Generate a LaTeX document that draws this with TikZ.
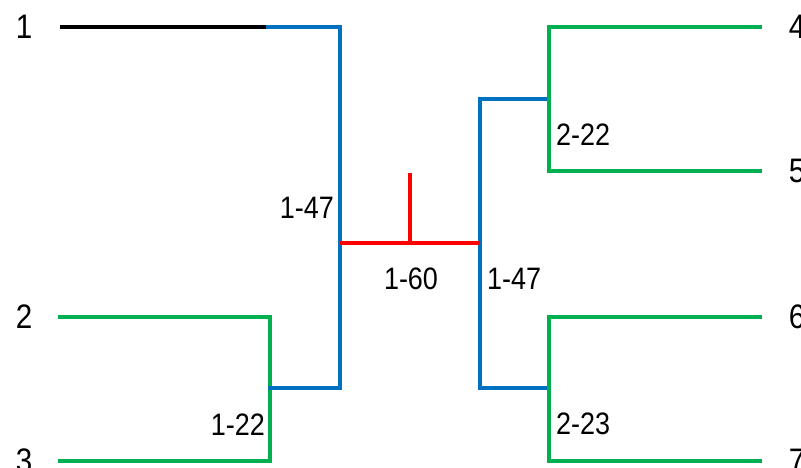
\documentclass[tikz,border=0pt]{standalone}
\usepackage{fontspec}
\usepackage{graphicx}
\setmainfont{Liberation Sans}
\definecolor{cblue}{HTML}{0070C0}
\definecolor{cgreen}{HTML}{00B050}
\definecolor{cred}{HTML}{FF0000}
\newcommand{\narrowtxt}[1]{\scalebox{0.87}[1]{#1}}
\begin{document}
\begin{tikzpicture}[x=1pt,y=-1pt,
  leaf/.style={font=\fontsize{34}{36}\selectfont, inner sep=0pt},
  lab/.style={font=\fontsize{31}{33}\selectfont, inner sep=0pt},
  ln/.style={line width=3.6pt, line cap=rect}]
\useasboundingbox (0,0) rectangle (801,468);
% leaf labels
\node[leaf] (n1) at (24,27) {\narrowtxt{1}};
\node[leaf] (n2) at (24,317) {\narrowtxt{2}};
\node[leaf] (n3) at (24,461) {\narrowtxt{3}};
\node[leaf] (n4) at (797,27) {\narrowtxt{4}};
\node[leaf] (n5) at (797,171) {\narrowtxt{5}};
\node[leaf] (n6) at (797,317) {\narrowtxt{6}};
\node[leaf] (n7) at (797,461) {\narrowtxt{7}};
% coordinates
\coordinate (a1) at (60,27);
\coordinate (a1b) at (268,27);
\coordinate (a1c) at (340,27);
\coordinate (a2) at (60,317);
\coordinate (a2c) at (270,317);
\coordinate (a3) at (60,461);
\coordinate (a3c) at (270,461);
\coordinate (j22) at (270,388);
\coordinate (lb) at (340,388);
\coordinate (lm) at (340,243);
\coordinate (rm) at (480,243);
\coordinate (rt) at (480,99);
\coordinate (rb) at (480,388);
\coordinate (gt) at (549,99);
\coordinate (gb) at (549,388);
\coordinate (g4) at (549,27);
\coordinate (g5) at (549,171);
\coordinate (g6) at (549,317);
\coordinate (g7) at (549,461);
\coordinate (e4) at (760,27);
\coordinate (e5) at (760,171);
\coordinate (e6) at (760,317);
\coordinate (e7) at (760,461);
\coordinate (rootb) at (410,243);
\coordinate (roott) at (410,173);
% lines
\draw[ln, black, line cap=butt] (a1) -- (a1b);
\draw[ln, cgreen] (a2) -- (a2c) -- (a3c) -- (a3);
\draw[ln, cblue] (a1b) -- (a1c) -- (lb) -- (j22);
\draw[ln, cblue] (gt) -- (rt) -- (rb) -- (gb);
\draw[ln, cgreen] (e4) -- (g4) -- (g5) -- (e5);
\draw[ln, cgreen] (e6) -- (g6) -- (g7) -- (e7);
\draw[ln, cred, line cap=butt] (lm) -- (rm);
\draw[ln, cred, line cap=butt] (rootb) -- (roott);
% branch labels
\node[lab, anchor=east] (l147a) at (334,208) {\narrowtxt{1-47}};
\node[lab] (l160) at (411,279) {\narrowtxt{1-60}};
\node[lab, anchor=west] (l147b) at (487,279) {\narrowtxt{1-47}};
\node[lab, anchor=west] (l222) at (556,135) {\narrowtxt{2-22}};
\node[lab, anchor=west] (l223) at (556,424) {\narrowtxt{2-23}};
\node[lab, anchor=east] (l122) at (265,425) {\narrowtxt{1-22}};
\end{tikzpicture}
\end{document}
